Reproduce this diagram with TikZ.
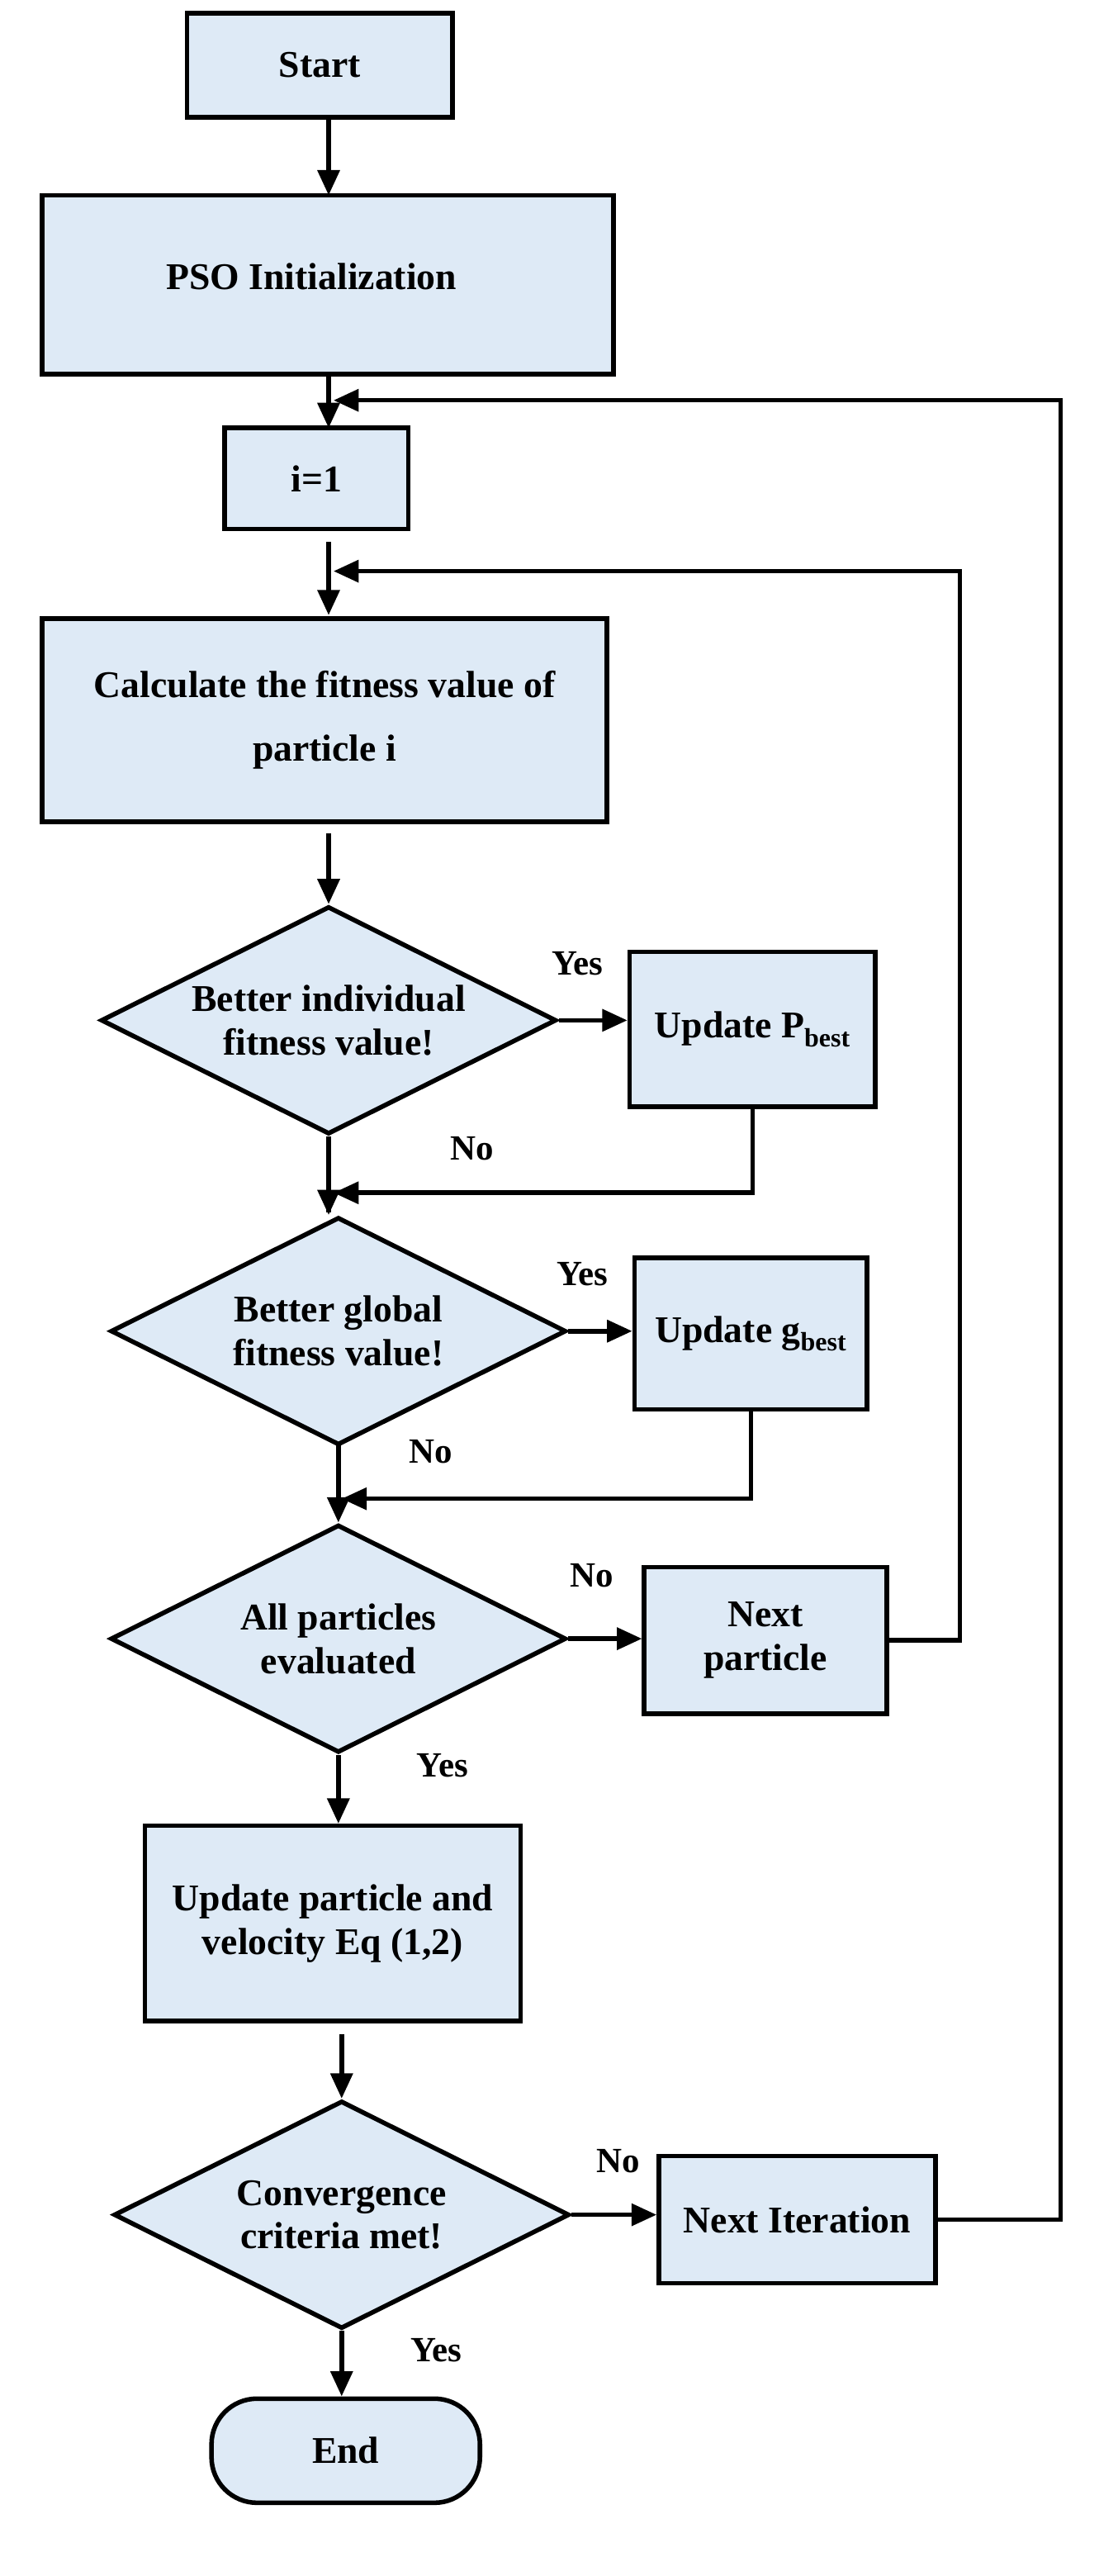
\documentclass[tikz,border=0pt]{standalone}
\usepackage{fontspec}
\setmainfont{Liberation Serif}
\usetikzlibrary{shapes.geometric,arrows.meta}
\definecolor{boxfill}{RGB}{222,234,246}
\begin{document}
\begin{tikzpicture}[x=0.05cm,y=-0.05cm,
  every node/.style={font=\fontsize{33}{38}\selectfont\bfseries},
  box/.style={draw,line width=4pt,fill=boxfill,rectangle,inner sep=0pt,align=center},
  dia/.style={draw,line width=4pt,fill=boxfill,diamond,inner sep=0pt,minimum width=14cm,minimum height=7cm,align=center},
  lab/.style={font=\fontsize{31}{34}\selectfont\bfseries},
  arr/.style={line width=4pt,-{Triangle[length=22pt,width=19pt]}},
  ln/.style={line width=4pt}]
\useasboundingbox (0,0) rectangle (687,1583);
\node[box,minimum width=8.15cm,minimum height=3.2cm] (start) at (196.5,40) {Start};
\node[box,minimum width=17.55cm,minimum height=5.5cm,label={center:\hspace*{-1cm}\raisebox{0.5cm}{PSO Initialization}}] (init) at (201.5,175) {};
\node[box,minimum width=5.65cm,minimum height=3.1cm] (i1) at (194.5,294) {\raisebox{-0.6cm}{i=1}};
\node[box,minimum width=17.35cm,minimum height=6.25cm] (calc) at (199.5,442.5) {Calculate the fitness value of\\[0.6cm]particle i};
\node[dia,label={[align=center]center:Better individual\\fitness value!}] (d1) at (202,627) {};
\node[box,minimum width=7.55cm,minimum height=4.75cm] (pb) at (462.5,632.5) {Update P\textsubscript{best}};
\node[dia,label={[align=center]center:Better global\\fitness value!}] (d2) at (208,818) {};
\node[box,minimum width=7.15cm,minimum height=4.65cm] (gb) at (461.5,819.5) {Update g\textsubscript{best}};
\node[dia,label={[align=center]center:All particles\\evaluated}] (d3) at (208,1007) {};
\node[box,minimum width=7.45cm,minimum height=4.5cm] (np) at (470.5,1008) {Next\\particle};
\node[box,minimum width=11.55cm,minimum height=6cm] (up) at (204.5,1182) {Update particle and\\velocity Eq (1,2)};
\node[dia,label={[align=center]center:Convergence\\criteria met!}] (d4) at (210,1361) {};
\node[box,minimum width=8.5cm,minimum height=3.9cm] (ni) at (490,1364) {Next Iteration};
\node[box,rounded corners=1.4cm,minimum width=8.25cm,minimum height=3.2cm] (end) at (212.5,1506) {End};
\coordinate (c1) at (202,120);
\coordinate (m1) at (205,246);
\coordinate (m2) at (205,351);
\coordinate (j1) at (205,733);
\coordinate (j2) at (210,921);
\draw[arr] (start.south -| c1) -- (c1);
\draw[ln] (202,230) -- (202,250);
\draw[arr] (202,240) -- (202,263);
\draw[arr] (202,333) -- (202,378);
\draw[arr] (202,512) -- (d1.north);
\draw[arr] (d1.east) -- (pb.west |- d1.east);
\draw[ln] (d1.south) -- (202,745);
\draw[arr] (202,733) -- (d2.north -| 202,0) ;
\draw[arr] (d2.east) -- (gb.west |- d2.east);
\draw[arr] (208,888) -- (d3.north);
\draw[arr] (d3.east) -- (np.west |- d3.east);
\draw[arr] (d3.south) -- (up.north -| d3.south);
\draw[arr] (210,1250) -- (d4.north);
\draw[arr] (d4.east) -- (ni.west |- d4.east);
\draw[arr] (d4.south) -- (end.north -| d4.south);
\draw[arr] (pb.south) -- (pb.south |- j1) -- (j1);
\draw[arr] (gb.south) -- (gb.south |- j2) -- (j2);
\draw[arr] (np.east) -- (590,1008) -- (590,351) -- (m2);
\draw[arr] (ni.east) -- (652,1364) -- (652,246) -- (m1);
\node[lab] (y1) at (355,592) {Yes};
\node[lab] (n1) at (290,706) {No};
\node[lab] (y2) at (358,783) {Yes};
\node[lab] (n2) at (265,892) {No};
\node[lab] (n3) at (364,968) {No};
\node[lab] (y3) at (272,1085) {Yes};
\node[lab] (n4) at (380,1328) {No};
\node[lab] (y4) at (268,1444) {Yes};
\end{tikzpicture}
\end{document}
